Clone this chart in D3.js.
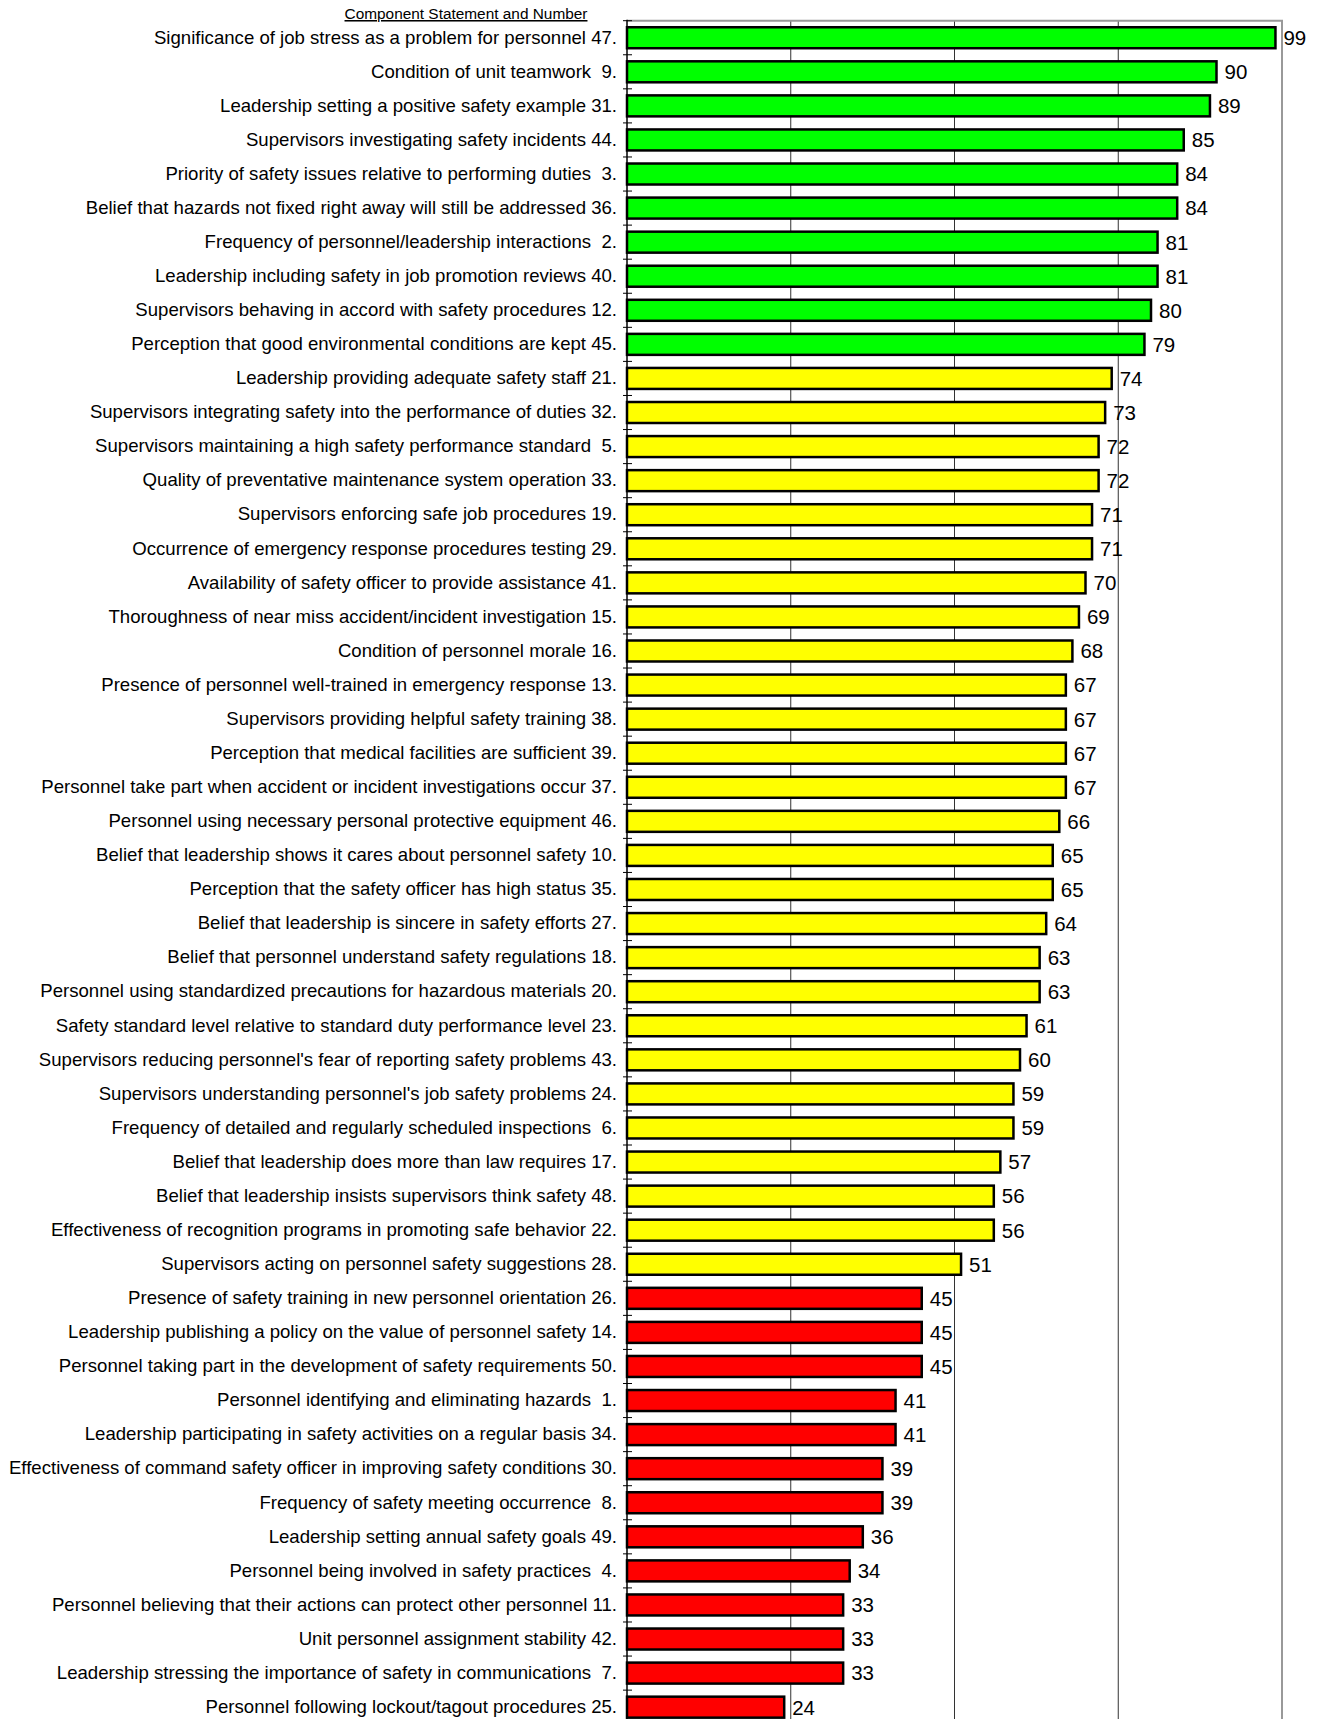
<!DOCTYPE html>
<html lang="en">
<head>
<meta charset="UTF-8">
<title>Component scores</title>
<script src="https://cdn.jsdelivr.net/npm/d3@7"></script>
<style>
    body { margin: 0; background: #fff; }
    svg { display: block; font-family: "Liberation Sans", Arial, sans-serif; }
    text { white-space: pre; }
</style>
</head>
<body>
<svg></svg>
<script>
// DATA
const statements = [
    "Significance of job stress as a problem for personnel 47.",
    "Condition of unit teamwork  9.",
    "Leadership setting a positive safety example 31.",
    "Supervisors investigating safety incidents 44.",
    "Priority of safety issues relative to performing duties  3.",
    "Belief that hazards not fixed right away will still be addressed 36.",
    "Frequency of personnel/leadership interactions  2.",
    "Leadership including safety in job promotion reviews 40.",
    "Supervisors behaving in accord with safety procedures 12.",
    "Perception that good environmental conditions are kept 45.",
    "Leadership providing adequate safety staff 21.",
    "Supervisors integrating safety into the performance of duties 32.",
    "Supervisors maintaining a high safety performance standard  5.",
    "Quality of preventative maintenance system operation 33.",
    "Supervisors enforcing safe job procedures 19.",
    "Occurrence of emergency response procedures testing 29.",
    "Availability of safety officer to provide assistance 41.",
    "Thoroughness of near miss accident/incident investigation 15.",
    "Condition of personnel morale 16.",
    "Presence of personnel well-trained in emergency response 13.",
    "Supervisors providing helpful safety training 38.",
    "Perception that medical facilities are sufficient 39.",
    "Personnel take part when accident or incident investigations occur 37.",
    "Personnel using necessary personal protective equipment 46.",
    "Belief that leadership shows it cares about personnel safety 10.",
    "Perception that the safety officer has high status 35.",
    "Belief that leadership is sincere in safety efforts 27.",
    "Belief that personnel understand safety regulations 18.",
    "Personnel using standardized precautions for hazardous materials 20.",
    "Safety standard level relative to standard duty performance level 23.",
    "Supervisors reducing personnel's fear of reporting safety problems 43.",
    "Supervisors understanding personnel's job safety problems 24.",
    "Frequency of detailed and regularly scheduled inspections  6.",
    "Belief that leadership does more than law requires 17.",
    "Belief that leadership insists supervisors think safety 48.",
    "Effectiveness of recognition programs in promoting safe behavior 22.",
    "Supervisors acting on personnel safety suggestions 28.",
    "Presence of safety training in new personnel orientation 26.",
    "Leadership publishing a policy on the value of personnel safety 14.",
    "Personnel taking part in the development of safety requirements 50.",
    "Personnel identifying and eliminating hazards  1.",
    "Leadership participating in safety activities on a regular basis 34.",
    "Effectiveness of command safety officer in improving safety conditions 30.",
    "Frequency of safety meeting occurrence  8.",
    "Leadership setting annual safety goals 49.",
    "Personnel being involved in safety practices  4.",
    "Personnel believing that their actions can protect other personnel 11.",
    "Unit personnel assignment stability 42.",
    "Leadership stressing the importance of safety in communications  7.",
    "Personnel following lockout/tagout procedures 25."
];
const scores = [
    99, 90, 89, 85, 84, 84, 81, 81, 80, 79,
    74, 73, 72, 72, 71, 71, 70, 69, 68, 67,
    67, 67, 67, 66, 65, 65, 64, 63, 63, 61,
    60, 59, 59, 57, 56, 56, 51, 45, 45, 45,
    41, 41, 39, 39, 36, 34, 33, 33, 33, 24
];
const gridValues = [25, 50, 75];
const bandThresholds = [50, 75];
const bandColors = ["#ff0000", "#ffff00", "#00ff00"];
const header = "Component Statement and Number";

const data = statements.map((s, i) => ({label: s, value: scores[i]}));

// DIMENSIONS
const dim = {width: 1323, height: 1719};
const plot = {left: 627, right: 1282, top: 20.7, step: 34.07};

const svg = d3.select("svg")
    .attr("width", dim.width)
    .attr("height", dim.height);

// SCALES
const x = d3.scaleLinear().domain([0, 100]).range([plot.left, plot.right]);
const y = d3.scaleBand()
    .domain(data.map(d => d.label))
    .range([plot.top, plot.top + plot.step * data.length])
    .paddingInner(0.384)
    .paddingOuter(0.192);
const color = d3.scaleThreshold().domain(bandThresholds).range(bandColors);

// gridlines
svg.append("g")
    .selectAll("line")
    .data(gridValues)
    .join("line")
        .attr("x1", d => x(d)).attr("x2", d => x(d))
        .attr("y1", plot.top).attr("y2", dim.height)
        .attr("stroke", "#333")
        .attr("stroke-width", 1);

// plot frame (top and right)
svg.append("path")
    .attr("d", `M${plot.left},${plot.top}H${plot.right}V${dim.height}`)
    .attr("fill", "none")
    .attr("stroke", "#999")
    .attr("stroke-width", 2);

// bars
svg.append("g")
    .selectAll("rect")
    .data(data)
    .join("rect")
        .attr("x", x(0))
        .attr("y", d => y(d.label))
        .attr("width", d => x(d.value) - x(0))
        .attr("height", y.bandwidth())
        .attr("fill", d => color(d.value))
        .attr("stroke", "#000")
        .attr("stroke-width", 2.5);

// value labels
svg.append("g")
    .selectAll("text")
    .data(data)
    .join("text")
        .attr("x", d => x(d.value) + 8)
        .attr("y", d => y(d.label) + y.bandwidth() / 2)
        .attr("dy", "0.36em")
        .attr("font-size", 20.5)
        .text(d => d.value);

// category axis: labels at band centres
const yAxis = svg.append("g")
    .attr("transform", `translate(${plot.left},0)`)
    .call(d3.axisLeft(y).tickSize(0).tickPadding(10));
yAxis.select(".domain").remove();
yAxis.selectAll("text")
    .attr("font-size", 18.6)
    .attr("fill", "#000")
    .attr("dy", "0.31em");
yAxis.attr("font-family", null);

// axis line and boundary ticks
const bounds = d3.range(data.length + 1).map(i => plot.top + i * y.step());
svg.append("line")
    .attr("x1", plot.left).attr("x2", plot.left)
    .attr("y1", plot.top - 1).attr("y2", dim.height)
    .attr("stroke", "#000")
    .attr("stroke-width", 1.5);
svg.append("g")
    .selectAll("line")
    .data(bounds)
    .join("line")
        .attr("x1", plot.left - 4).attr("x2", plot.left + 5)
        .attr("y1", d => d).attr("y2", d => d)
        .attr("stroke", "#000")
        .attr("stroke-width", 1);

// header
svg.append("text")
    .attr("x", 466)
    .attr("y", 19)
    .attr("text-anchor", "middle")
    .attr("font-size", 15.4)
    .attr("text-decoration", "underline")
    .text(header);
</script>
</body>
</html>
